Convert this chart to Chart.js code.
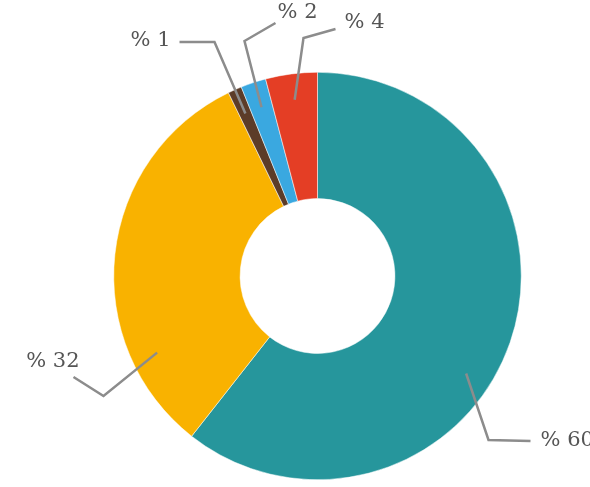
<!DOCTYPE html>
<html>
<head>
<meta charset="utf-8">
<script src="https://cdn.jsdelivr.net/npm/chart.js@4/dist/chart.umd.min.js"></script>
<style>
  body { margin: 0; background: #fff; }
  #wrap { width: 590px; height: 487px; }
</style>
</head>
<body>
<div id="wrap"><canvas id="chart" width="590" height="487"></canvas></div>
<script>
// slices, clockwise from 12 o'clock
const categories = ['A', 'B', 'C', 'D', 'E'];
const shares = [60.6, 32.2, 1.1, 2.0, 4.1];
const shareLabels = ['% 60', '% 32', '% 1', '% 2', '% 4'];
const colors = ['#26969c', '#f9b200', '#5c3c28', '#3aa8e0', '#e43e25'];

// leader line layout, offsets from the doughnut centre
const leaders = [
  { t: 0.565, elbow: [171, 164], end: [213, 165], text: [223, 165], align: 'left' },
  { t: 0.227, elbow: [-214, 120], end: [-244, 101], text: [-238, 86], align: 'right' },
  { t: 0.5, elbow: [-103, -234], end: [-138, -234], text: [-147, -235], align: 'right' },
  { t: 0.5, elbow: [-73, -235], end: [-42, -253], text: [-40, -263], align: 'left' },
  { t: 0.5, elbow: [-14, -238], end: [18, -247], text: [27, -253], align: 'left' }
];

const leaderPlugin = {
  id: 'leaders',
  afterDatasetsDraw(chart) {
    const ctx = chart.ctx;
    const arcs = chart.getDatasetMeta(0).data;
    ctx.save();
    arcs.forEach((arc, i) => {
      const l = leaders[i];
      const cx = arc.x, cy = arc.y;
      const a = arc.startAngle + l.t * (arc.endAngle - arc.startAngle);
      const r = arc.outerRadius - 26;
      ctx.beginPath();
      ctx.moveTo(cx + Math.cos(a) * r, cy + Math.sin(a) * r);
      ctx.lineTo(cx + l.elbow[0], cy + l.elbow[1]);
      ctx.lineTo(cx + l.end[0], cy + l.end[1]);
      ctx.strokeStyle = '#8c8c8c';
      ctx.lineWidth = 2.5;
      ctx.stroke();
      ctx.fillStyle = '#555555';
      ctx.font = '21px "DejaVu Serif"';
      ctx.textAlign = l.align;
      ctx.textBaseline = 'middle';
      ctx.fillText(shareLabels[i], cx + l.text[0], cy + l.text[1]);
    });
    ctx.restore();
  }
};

new Chart(document.getElementById('chart'), {
  type: 'doughnut',
  data: {
    labels: categories,
    datasets: [{
      data: shares,
      backgroundColor: colors,
      borderColor: '#ffffff',
      borderWidth: 0.5
    }]
  },
  options: {
    responsive: false,
    animation: false,
    cutout: '38%',
    layout: { padding: { left: 113, right: 68, top: 72, bottom: 7 } },
    plugins: {
      legend: { display: false },
      tooltip: { enabled: false }
    }
  },
  plugins: [leaderPlugin]
});
</script>
</body>
</html>
